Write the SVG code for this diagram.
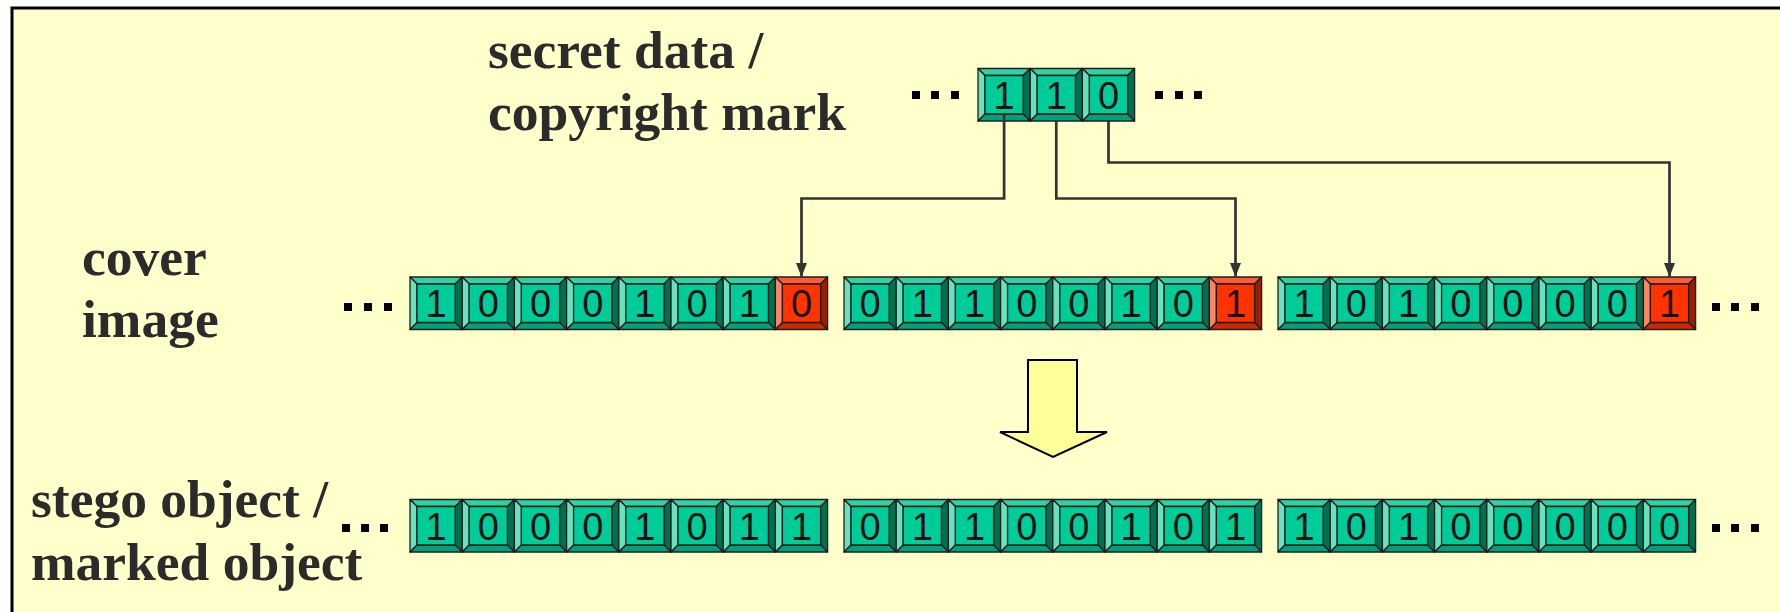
<svg xmlns="http://www.w3.org/2000/svg" xmlns:xlink="http://www.w3.org/1999/xlink" width="1780" height="612" viewBox="0 0 1780 612">
  <style>
    .lbl { font-family: "Liberation Serif", "Times New Roman", serif; font-weight: bold; font-size: 53.5px; fill: #2b2b2b; }
    .bit { font-family: "Liberation Sans", Arial, sans-serif; font-size: 38px; fill: #111; text-anchor: middle; }
    .dot { fill: #000; }
    .conn { fill: none; stroke: #333; stroke-width: 2.7; }
    .edge { stroke: #1e1e1e; stroke-width: 1.3; stroke-linejoin: round; }
  </style>
  <defs>
    <!-- bevelled bit cell, green -->
    <g id="bitG">
      <polygon class="edge" points="0,0 52.2,0 45.2,7 7,7" fill="#2fd3a3"/>
      <polygon class="edge" points="0,0 7,7 7,45.5 0,52.5" fill="#66e2bf"/>
      <polygon class="edge" points="52.2,0 52.2,52.5 45.2,45.5 45.2,7" fill="#00704f"/>
      <polygon class="edge" points="0,52.5 7,45.5 45.2,45.5 52.2,52.5" fill="#00a07a"/>
      <rect class="edge" x="7" y="7" width="38.2" height="38.5" fill="#00cc99"/>
    </g>
    <!-- bevelled bit cell, red (embedded bit) -->
    <g id="bitR">
      <polygon class="edge" points="0,0 52.2,0 45.2,7 7,7" fill="#ff5a33"/>
      <polygon class="edge" points="0,0 7,7 7,45.5 0,52.5" fill="#ff8466"/>
      <polygon class="edge" points="52.2,0 52.2,52.5 45.2,45.5 45.2,7" fill="#991f00"/>
      <polygon class="edge" points="0,52.5 7,45.5 45.2,45.5 52.2,52.5" fill="#cc2900"/>
      <rect class="edge" x="7" y="7" width="38.2" height="38.5" fill="#ff3300"/>
    </g>
    <marker id="arr" markerUnits="userSpaceOnUse" markerWidth="14" markerHeight="11" refX="14" refY="5.5" orient="auto">
      <path d="M0,0 L14,5.5 L0,11 z" fill="#333"/>
    </marker>
  </defs>

  <!-- slide background and frame -->
  <rect x="0" y="0" width="1780" height="612" fill="#ffffff"/>
  <rect x="12" y="8" width="1800" height="700" fill="#ffffcc" stroke="#000" stroke-width="3"/>

  <!-- labels -->
  <g id="label-secret">
    <text class="lbl" x="488" y="68">secret data /</text>
    <text class="lbl" x="488" y="130">copyright mark</text>
  </g>
  <g id="label-cover">
    <text class="lbl" x="82" y="275">cover</text>
    <text class="lbl" x="82" y="337">image</text>
  </g>
  <g id="label-stego">
    <text class="lbl" x="31" y="517">stego object /</text>
    <text class="lbl" x="31" y="580">marked object</text>
  </g>

  <!-- secret bits -->
  <g id="secret">
    <rect class="dot" x="912" y="91" width="8" height="8"/>
    <rect class="dot" x="931" y="91" width="8" height="8"/>
    <rect class="dot" x="951" y="91" width="8" height="8"/>
    <use href="#bitG" x="978" y="68.5"/>
    <use href="#bitG" x="1030.2" y="68.5"/>
    <use href="#bitG" x="1082.4" y="68.5"/>
    <text class="bit" x="1004.1" y="108.5">1</text>
    <text class="bit" x="1056.3" y="108.5">1</text>
    <text class="bit" x="1108.5" y="108.5">0</text>
    <rect class="dot" x="1155" y="91" width="8" height="8"/>
    <rect class="dot" x="1175" y="91" width="8" height="8"/>
    <rect class="dot" x="1194" y="91" width="8" height="8"/>
  </g>

  <!-- cover image bytes -->
  <g id="cover">
    <rect class="dot" x="344" y="303" width="8" height="8"/>
    <rect class="dot" x="364" y="303" width="8" height="8"/>
    <rect class="dot" x="384" y="303" width="8" height="8"/>
    <g id="cover-byte1">
      <use href="#bitG" x="410" y="277"/>
      <use href="#bitG" x="462.2" y="277"/>
      <use href="#bitG" x="514.4" y="277"/>
      <use href="#bitG" x="566.6" y="277"/>
      <use href="#bitG" x="618.8" y="277"/>
      <use href="#bitG" x="671" y="277"/>
      <use href="#bitG" x="723.2" y="277"/>
      <use href="#bitR" x="775.4" y="277"/>
      <text class="bit" x="436.1" y="317">1</text>
      <text class="bit" x="488.3" y="317">0</text>
      <text class="bit" x="540.5" y="317">0</text>
      <text class="bit" x="592.7" y="317">0</text>
      <text class="bit" x="644.9" y="317">1</text>
      <text class="bit" x="697.1" y="317">0</text>
      <text class="bit" x="749.3" y="317">1</text>
      <text class="bit" x="801.5" y="317">0</text>
    </g>
    <g id="cover-byte2">
      <use href="#bitG" x="844" y="277"/>
      <use href="#bitG" x="896.2" y="277"/>
      <use href="#bitG" x="948.4" y="277"/>
      <use href="#bitG" x="1000.6" y="277"/>
      <use href="#bitG" x="1052.8" y="277"/>
      <use href="#bitG" x="1105" y="277"/>
      <use href="#bitG" x="1157.2" y="277"/>
      <use href="#bitR" x="1209.4" y="277"/>
      <text class="bit" x="870.1" y="317">0</text>
      <text class="bit" x="922.3" y="317">1</text>
      <text class="bit" x="974.5" y="317">1</text>
      <text class="bit" x="1026.7" y="317">0</text>
      <text class="bit" x="1078.9" y="317">0</text>
      <text class="bit" x="1131.1" y="317">1</text>
      <text class="bit" x="1183.3" y="317">0</text>
      <text class="bit" x="1235.5" y="317">1</text>
    </g>
    <g id="cover-byte3">
      <use href="#bitG" x="1278" y="277"/>
      <use href="#bitG" x="1330.2" y="277"/>
      <use href="#bitG" x="1382.4" y="277"/>
      <use href="#bitG" x="1434.6" y="277"/>
      <use href="#bitG" x="1486.8" y="277"/>
      <use href="#bitG" x="1539" y="277"/>
      <use href="#bitG" x="1591.2" y="277"/>
      <use href="#bitR" x="1643.4" y="277"/>
      <text class="bit" x="1304.1" y="317">1</text>
      <text class="bit" x="1356.3" y="317">0</text>
      <text class="bit" x="1408.5" y="317">1</text>
      <text class="bit" x="1460.7" y="317">0</text>
      <text class="bit" x="1512.9" y="317">0</text>
      <text class="bit" x="1565.1" y="317">0</text>
      <text class="bit" x="1617.3" y="317">0</text>
      <text class="bit" x="1669.5" y="317">1</text>
    </g>
    <rect class="dot" x="1712" y="303" width="8" height="8"/>
    <rect class="dot" x="1731" y="303" width="8" height="8"/>
    <rect class="dot" x="1751" y="303" width="8" height="8"/>
  </g>

  <!-- embedding step -->
  <g id="embed-arrow">
    <polygon points="1028,360 1077,360 1077,432 1107,432 1053,457 1000,432 1028,432" fill="#ffff99" stroke="#000" stroke-width="2" stroke-linejoin="miter"/>
  </g>

  <!-- stego object bytes -->
  <g id="stego">
    <rect class="dot" x="342" y="524" width="8" height="8"/>
    <rect class="dot" x="361" y="524" width="8" height="8"/>
    <rect class="dot" x="380" y="524" width="8" height="8"/>
    <g id="stego-byte1">
      <use href="#bitG" x="410" y="499.5"/>
      <use href="#bitG" x="462.2" y="499.5"/>
      <use href="#bitG" x="514.4" y="499.5"/>
      <use href="#bitG" x="566.6" y="499.5"/>
      <use href="#bitG" x="618.8" y="499.5"/>
      <use href="#bitG" x="671" y="499.5"/>
      <use href="#bitG" x="723.2" y="499.5"/>
      <use href="#bitG" x="775.4" y="499.5"/>
      <text class="bit" x="436.1" y="539.5">1</text>
      <text class="bit" x="488.3" y="539.5">0</text>
      <text class="bit" x="540.5" y="539.5">0</text>
      <text class="bit" x="592.7" y="539.5">0</text>
      <text class="bit" x="644.9" y="539.5">1</text>
      <text class="bit" x="697.1" y="539.5">0</text>
      <text class="bit" x="749.3" y="539.5">1</text>
      <text class="bit" x="801.5" y="539.5">1</text>
    </g>
    <g id="stego-byte2">
      <use href="#bitG" x="844" y="499.5"/>
      <use href="#bitG" x="896.2" y="499.5"/>
      <use href="#bitG" x="948.4" y="499.5"/>
      <use href="#bitG" x="1000.6" y="499.5"/>
      <use href="#bitG" x="1052.8" y="499.5"/>
      <use href="#bitG" x="1105" y="499.5"/>
      <use href="#bitG" x="1157.2" y="499.5"/>
      <use href="#bitG" x="1209.4" y="499.5"/>
      <text class="bit" x="870.1" y="539.5">0</text>
      <text class="bit" x="922.3" y="539.5">1</text>
      <text class="bit" x="974.5" y="539.5">1</text>
      <text class="bit" x="1026.7" y="539.5">0</text>
      <text class="bit" x="1078.9" y="539.5">0</text>
      <text class="bit" x="1131.1" y="539.5">1</text>
      <text class="bit" x="1183.3" y="539.5">0</text>
      <text class="bit" x="1235.5" y="539.5">1</text>
    </g>
    <g id="stego-byte3">
      <use href="#bitG" x="1278" y="499.5"/>
      <use href="#bitG" x="1330.2" y="499.5"/>
      <use href="#bitG" x="1382.4" y="499.5"/>
      <use href="#bitG" x="1434.6" y="499.5"/>
      <use href="#bitG" x="1486.8" y="499.5"/>
      <use href="#bitG" x="1539" y="499.5"/>
      <use href="#bitG" x="1591.2" y="499.5"/>
      <use href="#bitG" x="1643.4" y="499.5"/>
      <text class="bit" x="1304.1" y="539.5">1</text>
      <text class="bit" x="1356.3" y="539.5">0</text>
      <text class="bit" x="1408.5" y="539.5">1</text>
      <text class="bit" x="1460.7" y="539.5">0</text>
      <text class="bit" x="1512.9" y="539.5">0</text>
      <text class="bit" x="1565.1" y="539.5">0</text>
      <text class="bit" x="1617.3" y="539.5">0</text>
      <text class="bit" x="1669.5" y="539.5">0</text>
    </g>
    <rect class="dot" x="1712" y="524" width="8" height="8"/>
    <rect class="dot" x="1731" y="524" width="8" height="8"/>
    <rect class="dot" x="1751" y="524" width="8" height="8"/>
  </g>

  <!-- secret bits routed into the least significant bit of each byte -->
  <g id="connectors">
    <polyline class="conn" points="1004.1,114 1004.1,198.5 801.5,198.5 801.5,277" marker-end="url(#arr)"/>
    <polyline class="conn" points="1056.3,121 1056.3,198.5 1235.5,198.5 1235.5,277" marker-end="url(#arr)"/>
    <polyline class="conn" points="1108.5,121 1108.5,162.5 1669.5,162.5 1669.5,277" marker-end="url(#arr)"/>
  </g>
</svg>
